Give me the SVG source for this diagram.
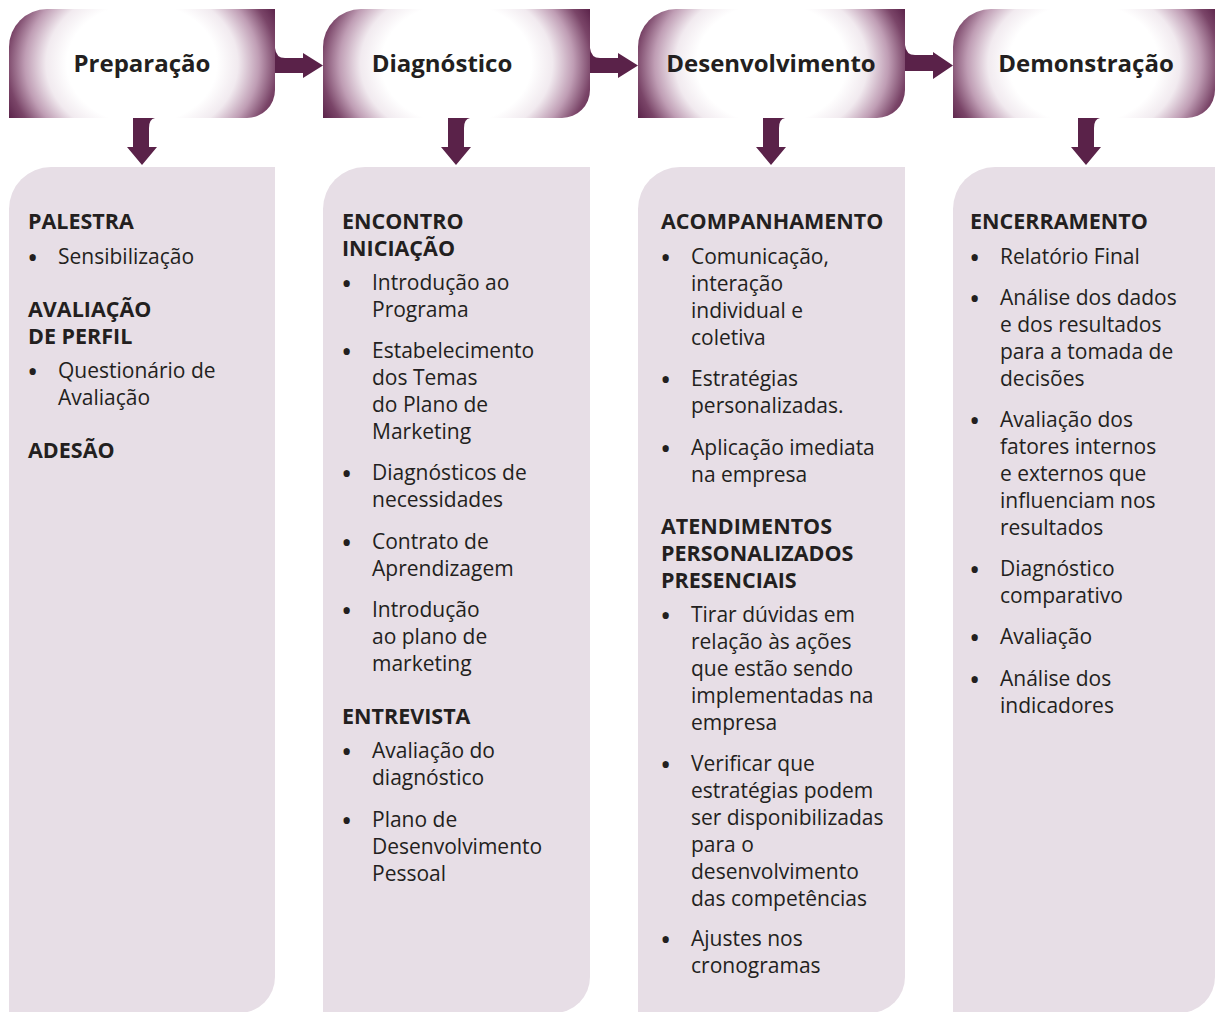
<svg xmlns="http://www.w3.org/2000/svg" width="1215" height="1012" viewBox="0 0 1215 1012">
<defs>
<radialGradient id="hg1" gradientUnits="userSpaceOnUse" cx="142" cy="63.5" r="150" gradientTransform="translate(142 63.5) scale(1 0.8) translate(-142 -63.5)">
<stop offset="0" stop-color="#ffffff"/>
<stop offset="0.5" stop-color="#ffffff"/>
<stop offset="0.64" stop-color="#f1eaef"/>
<stop offset="0.78" stop-color="#bf9db4"/>
<stop offset="0.9" stop-color="#7a4568"/>
<stop offset="1" stop-color="#5a2249"/>
</radialGradient>
<radialGradient id="hg2" href="#hg1" cx="456.5" cy="63.5" gradientTransform="translate(456.5 63.5) scale(1 0.8) translate(-456.5 -63.5)"/>
<radialGradient id="hg3" href="#hg1" cx="771.5" cy="63.5" gradientTransform="translate(771.5 63.5) scale(1 0.8) translate(-771.5 -63.5)"/>
<radialGradient id="hg4" href="#hg1" cx="1084" cy="63.5" gradientTransform="translate(1084 63.5) scale(1 0.8) translate(-1084 -63.5)"/>
<style>
.pn{fill:#e7dee6;}
.ar{fill:#5a2249;}
text{font-family:"Open Sans","Noto Sans","DejaVu Sans",sans-serif;fill:#231f20;}
.ht{font-size:24px;font-weight:700;text-anchor:middle;}
.h{font-size:21.5px;font-weight:700;}
.t{font-size:21px;}
.b{font-size:30px;}
</style>
</defs>
<g id="connectors">
<path class="ar" d="M275,48 Q276,58 285,58 L303,58 L303,53 L323,65.5 L303,78 L303,73 L275,73 Z"/>
<path class="ar" d="M590,48 Q591,58 600,58 L618,58 L618,53 L638,65.5 L618,78 L618,73 L590,73 Z"/>
<path class="ar" d="M905,45 Q906,55 915,55 L933,55 L933,52 L953,65.5 L933,79 L933,71 L905,71 Z"/>
<path class="ar" d="M133,118 L155,118 Q149,119 149,128 L149,147 L157,147 L142,165 L127,147 L133,147 Z"/>
<path class="ar" d="M448,118 L470,118 Q464,119 464,128 L464,147 L471,147 L456,165 L441,147 L448,147 Z"/>
<path class="ar" d="M763,118 L785,118 Q779,119 779,128 L779,147 L786,147 L771,165 L756,147 L763,147 Z"/>
<path class="ar" d="M1078,118 L1100,118 Q1094,119 1094,128 L1094,147 L1101,147 L1086,165 L1071,147 L1078,147 Z"/>
</g>
<g id="header-preparacao">
<path fill="url(#hg1)" d="M47,9 H275 V90 A28,28 0 0 1 247,118 H9 V47 A38,38 0 0 1 47,9 Z"/>
<text class="ht" x="142" y="72">Preparação</text>
</g>
<g id="header-diagnostico">
<path fill="url(#hg2)" d="M361,9 H590 V90 A28,28 0 0 1 562,118 H323 V47 A38,38 0 0 1 361,9 Z"/>
<text class="ht" x="442" y="72">Diagnóstico</text>
</g>
<g id="header-desenvolvimento">
<path fill="url(#hg3)" d="M676,9 H905 V90 A28,28 0 0 1 877,118 H638 V47 A38,38 0 0 1 676,9 Z"/>
<text class="ht" x="771" y="72">Desenvolvimento</text>
</g>
<g id="header-demonstracao">
<path fill="url(#hg4)" d="M991,9 H1215 V90 A28,28 0 0 1 1187,118 H953 V47 A38,38 0 0 1 991,9 Z"/>
<text class="ht" x="1086" y="72">Demonstração</text>
</g>
<g id="panel-preparacao">
<path class="pn" d="M51,167 H275 V977 A36,36 0 0 1 239,1013 H9 V209 A42,42 0 0 1 51,167 Z"/>
<text class="h" x="28" y="229">PALESTRA</text>
<text class="b" x="27" y="268">•</text><text class="t" x="58" y="264">Sensibilização</text>
<text class="h" x="28" y="317">AVALIAÇÃO</text>
<text class="h" x="28" y="344">DE PERFIL</text>
<text class="b" x="27" y="382">•</text><text class="t" x="58" y="378">Questionário de</text>
<text class="t" x="58" y="405">Avaliação</text>
<text class="h" x="28" y="458">ADESÃO</text>
</g>
<g id="panel-diagnostico">
<path class="pn" d="M365,167 H590 V977 A36,36 0 0 1 554,1013 H323 V209 A42,42 0 0 1 365,167 Z"/>
<text class="h" x="342" y="229">ENCONTRO</text>
<text class="h" x="342" y="256">INICIAÇÃO</text>
<text class="b" x="341" y="294">•</text><text class="t" x="372" y="290">Introdução ao</text>
<text class="t" x="372" y="317">Programa</text>
<text class="b" x="341" y="362">•</text><text class="t" x="372" y="358">Estabelecimento</text>
<text class="t" x="372" y="385">dos Temas</text>
<text class="t" x="372" y="412">do Plano de</text>
<text class="t" x="372" y="439">Marketing</text>
<text class="b" x="341" y="484">•</text><text class="t" x="372" y="480">Diagnósticos de</text>
<text class="t" x="372" y="507">necessidades</text>
<text class="b" x="341" y="553">•</text><text class="t" x="372" y="549">Contrato de</text>
<text class="t" x="372" y="576">Aprendizagem</text>
<text class="b" x="341" y="621">•</text><text class="t" x="372" y="617">Introdução</text>
<text class="t" x="372" y="644">ao plano de</text>
<text class="t" x="372" y="671">marketing</text>
<text class="h" x="342" y="724">ENTREVISTA</text>
<text class="b" x="341" y="762">•</text><text class="t" x="372" y="758">Avaliação do</text>
<text class="t" x="372" y="785">diagnóstico</text>
<text class="b" x="341" y="831">•</text><text class="t" x="372" y="827">Plano de</text>
<text class="t" x="372" y="854">Desenvolvimento</text>
<text class="t" x="372" y="881">Pessoal</text>
</g>
<g id="panel-desenvolvimento">
<path class="pn" d="M680,167 H905 V977 A36,36 0 0 1 869,1013 H638 V209 A42,42 0 0 1 680,167 Z"/>
<text class="h" x="661" y="229">ACOMPANHAMENTO</text>
<text class="b" x="660" y="268">•</text><text class="t" x="691" y="264">Comunicação,</text>
<text class="t" x="691" y="291">interação</text>
<text class="t" x="691" y="318">individual e</text>
<text class="t" x="691" y="345">coletiva</text>
<text class="b" x="660" y="390">•</text><text class="t" x="691" y="386">Estratégias</text>
<text class="t" x="691" y="413">personalizadas.</text>
<text class="b" x="660" y="459">•</text><text class="t" x="691" y="455">Aplicação imediata</text>
<text class="t" x="691" y="482">na empresa</text>
<text class="h" x="661" y="534">ATENDIMENTOS</text>
<text class="h" x="661" y="561">PERSONALIZADOS</text>
<text class="h" x="661" y="588">PRESENCIAIS</text>
<text class="b" x="660" y="626">•</text><text class="t" x="691" y="622">Tirar dúvidas em</text>
<text class="t" x="691" y="649">relação às ações</text>
<text class="t" x="691" y="676">que estão sendo</text>
<text class="t" x="691" y="703">implementadas na</text>
<text class="t" x="691" y="730">empresa</text>
<text class="b" x="660" y="775">•</text><text class="t" x="691" y="771">Verificar que</text>
<text class="t" x="691" y="798">estratégias podem</text>
<text class="t" x="691" y="825">ser disponibilizadas</text>
<text class="t" x="691" y="852">para o</text>
<text class="t" x="691" y="879">desenvolvimento</text>
<text class="t" x="691" y="906">das competências</text>
<text class="b" x="660" y="950">•</text><text class="t" x="691" y="946">Ajustes nos</text>
<text class="t" x="691" y="973">cronogramas</text>
</g>
<g id="panel-demonstracao">
<path class="pn" d="M995,167 H1215 V977 A36,36 0 0 1 1179,1013 H953 V209 A42,42 0 0 1 995,167 Z"/>
<text class="h" x="970" y="229">ENCERRAMENTO</text>
<text class="b" x="969" y="268">•</text><text class="t" x="1000" y="264">Relatório Final</text>
<text class="b" x="969" y="309">•</text><text class="t" x="1000" y="305">Análise dos dados</text>
<text class="t" x="1000" y="332">e dos resultados</text>
<text class="t" x="1000" y="359">para a tomada de</text>
<text class="t" x="1000" y="386">decisões</text>
<text class="b" x="969" y="431">•</text><text class="t" x="1000" y="427">Avaliação dos</text>
<text class="t" x="1000" y="454">fatores internos</text>
<text class="t" x="1000" y="481">e externos que</text>
<text class="t" x="1000" y="508">influenciam nos</text>
<text class="t" x="1000" y="535">resultados</text>
<text class="b" x="969" y="580">•</text><text class="t" x="1000" y="576">Diagnóstico</text>
<text class="t" x="1000" y="603">comparativo</text>
<text class="b" x="969" y="648">•</text><text class="t" x="1000" y="644">Avaliação</text>
<text class="b" x="969" y="690">•</text><text class="t" x="1000" y="686">Análise dos</text>
<text class="t" x="1000" y="713">indicadores</text>
</g>
</svg>
